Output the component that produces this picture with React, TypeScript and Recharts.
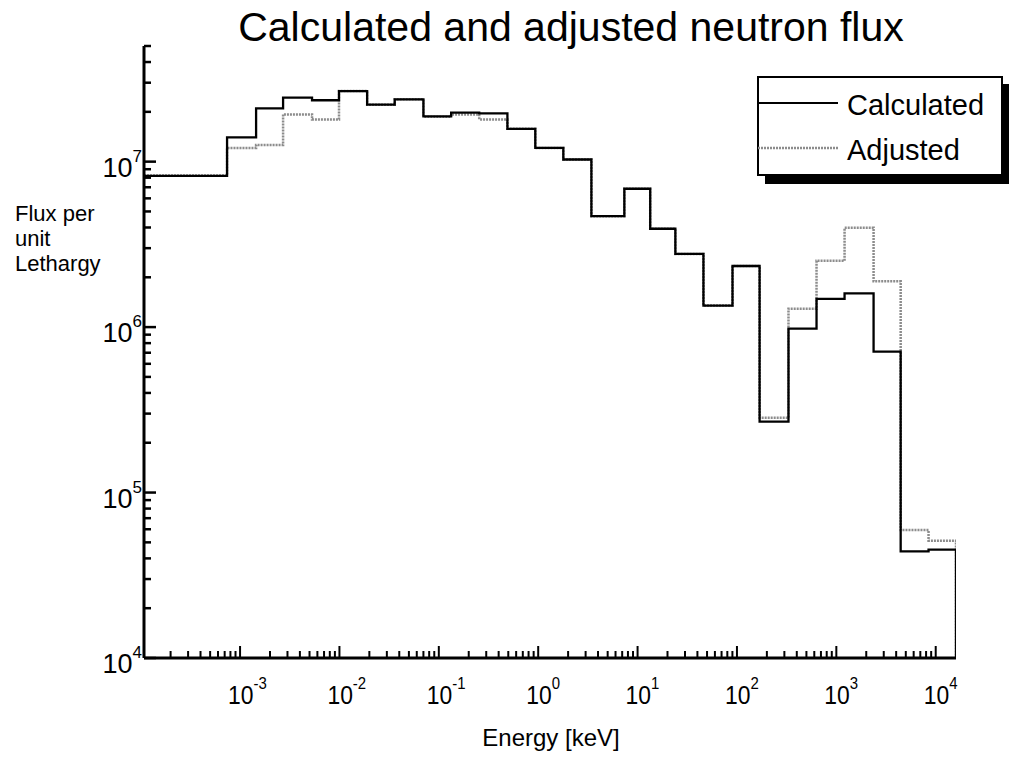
import React from 'react';
import { LineChart, Line, XAxis, YAxis, Legend } from 'recharts';

// Energy group boundaries [keV] and flux per unit lethargy in each group
const edges = [
  1.08e-4, 7.4e-4, 1.45e-3, 2.71e-3, 5.3e-3, 9.9e-3, 1.9e-2, 3.6e-2, 7.0e-2,
  0.133, 0.255, 0.49, 0.935, 1.79, 3.43, 7.36, 13.4, 24.0, 46.0, 90.2, 169,
  330, 632, 1210, 2370, 4440, 8470, 16000,
];
const calculated = [
  8.2e6, 1.4e7, 2.1e7, 2.44e7, 2.35e7, 2.67e7, 2.21e7, 2.38e7, 1.88e7,
  1.98e7, 1.96e7, 1.58e7, 1.21e7, 1.03e7, 4.68e6, 6.86e6, 3.93e6, 2.77e6,
  1.35e6, 2.34e6, 2.68e5, 9.8e5, 1.48e6, 1.6e6, 7.1e5, 4.41e4, 4.52e4,
];
const adjusted = [
  8.25e6, 1.21e7, 1.26e7, 1.93e7, 1.8e7, 2.67e7, 2.21e7, 2.38e7, 1.87e7,
  1.93e7, 1.8e7, 1.58e7, 1.21e7, 1.03e7, 4.68e6, 6.86e6, 3.93e6, 2.77e6,
  1.35e6, 2.34e6, 2.83e5, 1.29e6, 2.52e6, 3.98e6, 1.89e6, 5.93e4, 5.12e4,
];
const seriesNames = ['Calculated', 'Adjusted'];

const xDomain = [1.08e-4, 1.6e4];
const yDomain = [1e4, 5e7];
const xDecades = [-4, -3, -2, -1, 0, 1, 2, 3, 4];
const yDecades = [4, 5, 6, 7];

const FONT = '"Liberation Sans", Arial, Helvetica, sans-serif';

function logTicks(decades: number[], lo: number, hi: number) {
  const out: number[] = [];
  decades.forEach((d) => {
    for (let m = 1; m <= 9; m++) {
      const v = m * Math.pow(10, d);
      if (v >= lo * 0.999 && v <= hi * 1.001) out.push(v);
    }
  });
  return out;
}
const xTicks = logTicks(xDecades, xDomain[0], xDomain[1]);
const yTicks = logTicks(yDecades, yDomain[0], yDomain[1]);

function isMajor(v: number) {
  const l = Math.log10(v);
  return Math.abs(l - Math.round(l)) < 1e-6;
}

const rows = edges.map((x, i) => {
  const j = Math.min(i, calculated.length - 1);
  return { x, calc: calculated[j], adj: adjusted[j] };
});
// last group closes down onto the x axis
rows.push({ x: edges[edges.length - 1], calc: yDomain[0], adj: yDomain[0] });

function XTick(props: any) {
  const { x, payload } = props;
  const y = 658;
  const v = payload.value;
  const major = isMajor(v);
  const e = Math.round(Math.log10(v));
  return (
    <g>
      <line x1={x} x2={x} y1={y} y2={y - (major ? 12 : 7)} stroke="#000" strokeWidth={2} />
      {major && (
        <text
          transform={`translate(${x - 12},${y + 46}) scale(0.88,1)`}
          fontFamily={FONT}
          fontSize={26}
          fill="#000"
        >
          <tspan>10</tspan>
          <tspan dy={-15} fontSize={17}>{e}</tspan>
        </text>
      )}
    </g>
  );
}

function YTick(props: any) {
  const { y, payload } = props;
  const x = 144;
  const v = payload.value;
  const major = isMajor(v);
  const e = Math.round(Math.log10(v));
  return (
    <g>
      <line x1={x} x2={x + (major ? 12 : 7)} y1={y} y2={y} stroke="#000" strokeWidth={2.5} />
      {major && (
        <text x={x - 2} y={y + 15} textAnchor="end" fontFamily={FONT} fontSize={27} fill="#000">
          <tspan>10</tspan>
          <tspan dy={-15} fontSize={17}>{e}</tspan>
        </text>
      )}
    </g>
  );
}

function LegendBox() {
  return (
    <svg width={252} height={110} style={{ display: 'block' }}>
      <rect x={8} y={99} width={252} height={9} fill="#000" />
      <rect x={245} y={8} width={10} height={100} fill="#000" />
      <rect x={1} y={1} width={244} height={98} fill="#fff" stroke="#000" strokeWidth={2} />
      <line x1={1} x2={81} y1={27} y2={27} stroke="#000" strokeWidth={2} />
      <line x1={1} x2={81} y1={72} y2={72} stroke="#8c8c8c" strokeWidth={2.5} strokeDasharray="2 1" />
      <text x={90} y={39} fontFamily={FONT} fontSize={29} fill="#000">{seriesNames[0]}</text>
      <text x={90} y={84} fontFamily={FONT} fontSize={29} fill="#000">{seriesNames[1]}</text>
    </svg>
  );
}

export default function App() {
  return (
    <div style={{ position: 'absolute', left: 0, top: 0, width: 1009, height: 773, background: '#fff' }}>
      <LineChart
        width={1009}
        height={773}
        data={rows}
        margin={{ top: 46, right: 53, bottom: 105, left: 134 }}
      >
        <XAxis
          dataKey="x"
          type="number"
          scale="log"
          domain={xDomain}
          ticks={xTicks}
          interval={0}
          height={10}
          tickLine={false}
          allowDataOverflow
          axisLine={{ stroke: '#000', strokeWidth: 3 }}
          tick={<XTick />}
        />
        <YAxis
          type="number"
          scale="log"
          domain={yDomain}
          ticks={yTicks}
          interval={0}
          width={10}
          tickLine={false}
          allowDataOverflow
          axisLine={{ stroke: '#000', strokeWidth: 3 }}
          tick={<YTick />}
        />
        <Legend
          layout="vertical"
          align="center"
          verticalAlign="middle"
          wrapperStyle={{ left: 757, top: 76, width: 252, height: 110 }}
          content={() => <LegendBox />}
        />
        <Line
          type="stepAfter"
          dataKey="adj"
          name={seriesNames[1]}
          stroke="#8c8c8c"
          strokeWidth={2.5}
          strokeDasharray="2 1"
          dot={false}
          isAnimationActive={false}
        />
        <Line
          type="stepAfter"
          dataKey="calc"
          name={seriesNames[0]}
          stroke="#000"
          strokeWidth={2.3}
          dot={false}
          isAnimationActive={false}
        />
      </LineChart>
      <svg
        width={1009}
        height={773}
        style={{ position: 'absolute', left: 0, top: 0, pointerEvents: 'none' }}
      >
        <text x={571} y={41} textAnchor="middle" fontFamily={FONT} fontSize={41} fill="#000">
          Calculated and adjusted neutron flux
        </text>
        <text fontFamily={FONT} fontSize={22} fill="#000">
          <tspan x={15} y={221}>Flux per</tspan>
          <tspan x={15} y={246}>unit</tspan>
          <tspan x={15} y={271}>Lethargy</tspan>
        </text>
        <text x={551} y={746} textAnchor="middle" fontFamily={FONT} fontSize={24} fill="#000">
          Energy [keV]
        </text>
      </svg>
    </div>
  );
}
